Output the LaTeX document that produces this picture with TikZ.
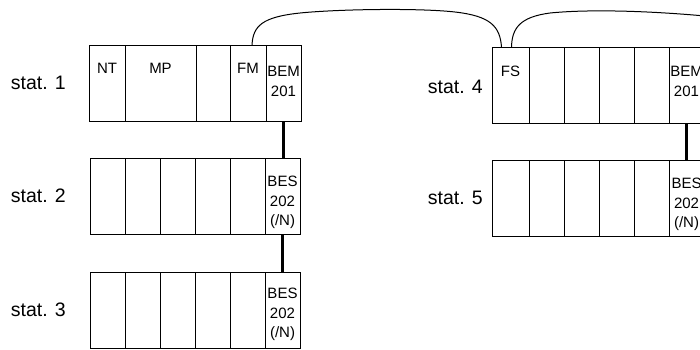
\documentclass[tikz,border=0pt]{standalone}
\usepackage{fontspec}
\setmainfont{Liberation Sans}
\usetikzlibrary{positioning}

\tikzset{
    module/.style={draw, rectangle, line width=0.9pt, minimum width=35pt,
                   minimum height=76pt, inner sep=0pt, outer sep=0pt,
                   anchor=north west},
    modtext/.style={font=\fontsize{15}{19.5}\selectfont, align=center,
                    inner sep=0pt},
    statlabel/.style={font=\fontsize{19.5}{22}\selectfont, inner sep=0pt},
    bus/.style={line width=3pt},
    cable/.style={line width=1pt}
}

\begin{document}
\begin{tikzpicture}[x=1pt,y=-1pt]
    % Picture frame, same size as the reference
    \useasboundingbox (0,0) rectangle (700,349);
    \clip (0,0) rectangle (700,349);

    % Station 1: NT, MP, free slot, FM and BEM 201
    \node[module, minimum width=36pt] (s1-nt) at (89,45) {};
    \node[module, minimum width=71pt, right=0pt of s1-nt] (s1-mp) {};
    \node[module, minimum width=34pt, right=0pt of s1-mp] (s1-free) {};
    \node[module, minimum width=36pt, right=0pt of s1-free] (s1-fm) {};
    \node[module, right=0pt of s1-fm] (s1-bem) {};

    % Stations 2 and 3: five free slots and a BES 202 each
    \node[module] (s2-1) at (90,158) {};
    \foreach \i [remember=\i as \prev (initially 1)] in {2,...,5}
        \node[module, right=0pt of s2-\prev] (s2-\i) {};
    \node[module, right=0pt of s2-5] (s2-bes) {};

    \node[module] (s3-1) at (90,272) {};
    \foreach \i [remember=\i as \prev (initially 1)] in {2,...,5}
        \node[module, right=0pt of s3-\prev] (s3-\i) {};
    \node[module, right=0pt of s3-5] (s3-bes) {};

    % Station 4: FS, four free slots, BEM 201 (cut by the frame)
    \node[module, minimum width=37pt] (s4-fs) at (492,47) {};
    \node[module, right=0pt of s4-fs] (s4-2) {};
    \foreach \i [remember=\i as \prev (initially 2)] in {3,...,5}
        \node[module, right=0pt of s4-\prev] (s4-\i) {};
    \node[module, right=0pt of s4-5] (s4-bem) {};

    % Station 5
    \node[module, minimum width=37pt] (s5-1) at (492,160) {};
    \foreach \i [remember=\i as \prev (initially 1)] in {2,...,5}
        \node[module, right=0pt of s5-\prev] (s5-\i) {};
    \node[module, right=0pt of s5-5] (s5-bes) {};

    % Module texts
    \node[modtext, below=18pt of s1-nt.north] (t-nt) {NT};
    \node[modtext, below=18pt of s1-mp.north] (t-mp) {MP};
    \node[modtext, below=18pt of s1-fm.north] (t-fm) {FM};
    \node[modtext, below=21pt of s1-bem.north] (t-bem1) {BEM\\201};
    \node[modtext, below=18pt of s2-bes.north] (t-bes2) {BES\\202\\(/N)};
    \node[modtext, below=16pt of s3-bes.north] (t-bes3) {BES\\202\\(/N)};
    \node[modtext, below=19pt of s4-fs.north] (t-fs) {FS};
    \node[modtext, below=19pt of s4-bem.north] (t-bem4) {BEM\\201};
    \node[modtext, below=18pt of s5-bes.north] (t-bes5) {BES\\202\\(/N)};

    % Station names
    \node[statlabel, anchor=east, left=23pt of s1-nt.west] (l1) {stat. 1};
    \node[statlabel, anchor=east, left=24pt of s2-1.west] (l2) {stat. 2};
    \node[statlabel, anchor=east, left=24pt of s3-1.west] (l3) {stat. 3};
    \node[statlabel, anchor=east, left=9pt of s4-fs.west, yshift=-2pt] (l4) {stat. 4};
    \node[statlabel, anchor=east, left=9pt of s5-1.west] (l5) {stat. 5};

    % Bus links between the stations
    \draw[bus] (s1-bem.south) -- (s1-bem.south |- s2-bes.north);
    \draw[bus] (s2-bes.south) -- (s2-bes.south |- s3-bes.north);
    \draw[bus] (s4-bem.south) -- (s4-bem.south |- s5-bes.north);

    % Fibre cable FM -> FS and on to the right
    \coordinate (c1) at (300,13);
    \coordinate (c2) at (455,12);
    \coordinate (c3) at (550,13);
    \coordinate (cable-end) at (705,16);
    \draw[cable] ([xshift=4pt]s1-fm.north) .. controls (253,26) and (262,17) .. (c1)
        .. controls (340,9) and (420,8) .. (c2)
        .. controls (490,16) and (500,26) .. ([xshift=-9pt]s4-fs.north);
    \draw[cable] ([xshift=1pt]s4-fs.north) .. controls (512,28) and (520,17) .. (c3)
        .. controls (590,9) and (650,11) .. (cable-end);
\end{tikzpicture}
\end{document}
